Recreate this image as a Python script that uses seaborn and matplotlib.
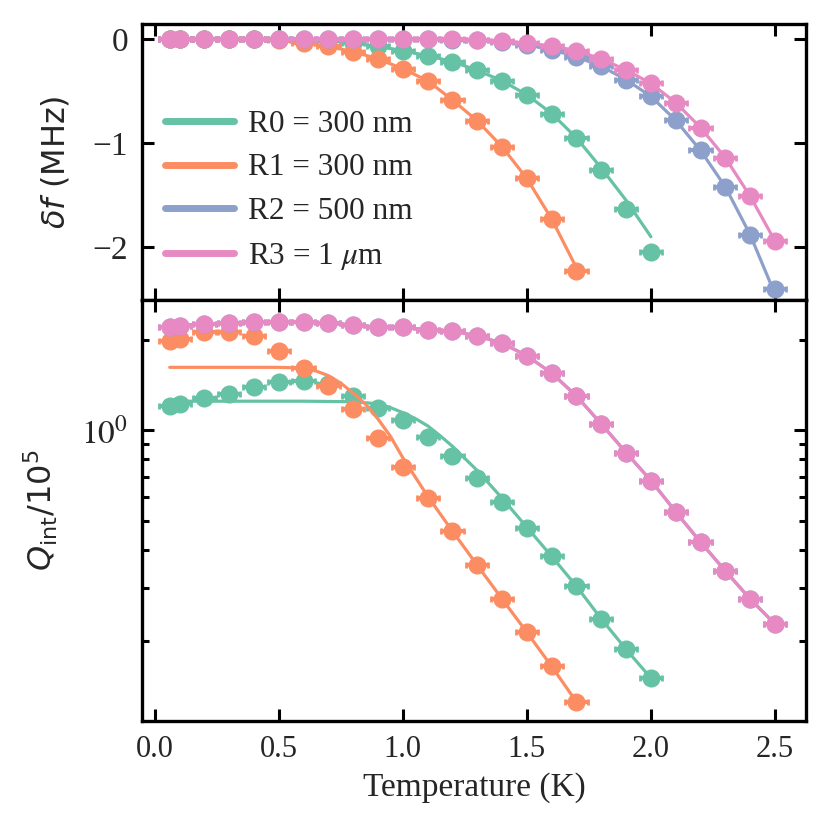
import numpy as np
import pandas as pd
import matplotlib
matplotlib.use("Agg")
import matplotlib.pyplot as plt
from matplotlib.lines import Line2D
import seaborn as sns

# ---------------- data ----------------
labels = ["R0 = 300 nm", "R1 = 300 nm", "R2 = 500 nm", r"R3 = 1 $\mu$m"]
colors = sns.color_palette("Set2", 4)

T_R0 = [0.06, 0.1, 0.2, 0.3, 0.4, 0.5, 0.6, 0.7, 0.8, 0.9, 1.0, 1.1, 1.2, 1.3, 1.4,
        1.5, 1.6, 1.7, 1.8, 1.9, 2.0]
T_R1 = [0.06, 0.1, 0.2, 0.3, 0.4, 0.5, 0.6, 0.7, 0.8, 0.9, 1.0, 1.1, 1.2, 1.3, 1.4,
        1.5, 1.6, 1.7]
T_R23 = [0.06, 0.1, 0.2, 0.3, 0.4, 0.5, 0.6, 0.7, 0.8, 0.9, 1.0, 1.1, 1.2, 1.3, 1.4,
         1.5, 1.6, 1.7, 1.8, 1.9, 2.0, 2.1, 2.2, 2.3, 2.4, 2.5]

# frequency shift (MHz)
df_R0 = [0.0, 0.0, 0.0, 0.0, 0.0, 0.0, -0.005, -0.015, -0.035, -0.07, -0.11, -0.16,
         -0.215, -0.30, -0.40, -0.535, -0.715, -0.95, -1.26, -1.63, -2.05]
df_R1 = [0.0, 0.0, 0.0, 0.0, 0.0, -0.01, -0.04, -0.07, -0.12, -0.19, -0.285, -0.40,
         -0.585, -0.785, -1.035, -1.34, -1.73, -2.23]
df_R2 = [0.0, 0.0, 0.0, 0.0, 0.0, 0.0, 0.0, 0.0, 0.0, 0.0, 0.0, 0.0, -0.005, -0.01,
         -0.025, -0.055, -0.10, -0.17, -0.26, -0.39, -0.55, -0.78, -1.07, -1.42,
         -1.88, -2.40]
df_R3 = [0.0, 0.0, 0.0, 0.0, 0.0, 0.0, 0.0, 0.0, 0.0, 0.0, 0.0, 0.0, 0.0, -0.005,
         -0.016, -0.04, -0.065, -0.11, -0.19, -0.296, -0.425, -0.61, -0.85, -1.14,
         -1.51, -1.94]

# fitted frequency shift (MHz)
df_fit_R0 = [0.0, 0.0, 0.0, 0.0, 0.0, 0.0, -0.005, -0.015, -0.035, -0.07, -0.11, -0.16,
             -0.215, -0.30, -0.40, -0.535, -0.715, -0.95, -1.24, -1.55, -1.90]
df_fit_R1 = [0.0, 0.0, 0.0, 0.0, 0.0, -0.01, -0.04, -0.07, -0.12, -0.19, -0.285, -0.40,
             -0.585, -0.785, -1.035, -1.34, -1.73, -2.20]
df_fit_R2 = [0.0, 0.0, 0.0, 0.0, 0.0, 0.0, 0.0, 0.0, 0.0, 0.0, 0.0, 0.0, -0.005, -0.01,
             -0.025, -0.055, -0.10, -0.17, -0.26, -0.39, -0.55, -0.78, -1.07, -1.42,
             -1.88, -2.45]
df_fit_R3 = df_R3

# internal quality factor (1e5)
Q_R0 = [1.205, 1.22, 1.285, 1.325, 1.39, 1.45, 1.46, 1.43, 1.30, 1.19, 1.08, 0.953,
        0.821, 0.693, 0.577, 0.474, 0.381, 0.303, 0.236, 0.187, 0.150]
Q_R1 = [1.98, 2.01, 2.12, 2.12, 2.06, 1.84, 1.61, 1.40, 1.175, 0.946, 0.758, 0.596,
        0.462, 0.356, 0.275, 0.213, 0.164, 0.125]
Q_R2 = [2.20, 2.23, 2.26, 2.27, 2.29, 2.30, 2.29, 2.27, 2.24, 2.20, 2.20, 2.16, 2.14,
        2.06, 1.95, 1.77, 1.55, 1.30, 1.05, 0.843, 0.681, 0.536, 0.425, 0.341, 0.275,
        0.227]
Q_R3 = Q_R2

T_fit_R0 = [0.06, 0.2, 0.4, 0.6, 0.8, 0.9, 0.95, 1.0, 1.05, 1.1, 1.15, 1.2, 1.3, 1.4,
            1.5, 1.6, 1.7, 1.8, 1.9, 2.0]
Q_fit_R0 = [1.25, 1.25, 1.25, 1.25, 1.245, 1.225, 1.19, 1.145, 1.095, 1.035, 0.96,
            0.885, 0.735, 0.595, 0.476, 0.381, 0.303, 0.236, 0.187, 0.150]
T_fit_R1 = [0.06, 0.2, 0.4, 0.5, 0.6, 0.65, 0.7, 0.75, 0.8, 0.85, 0.9, 0.95, 1.0,
            1.1, 1.2, 1.3, 1.4, 1.5, 1.6, 1.7]
Q_fit_R1 = [1.62, 1.62, 1.62, 1.62, 1.61, 1.575, 1.52, 1.435, 1.33, 1.22, 1.09, 0.955,
            0.81, 0.604, 0.462, 0.356, 0.275, 0.213, 0.164, 0.125]
Q_fit_R2 = Q_R2
Q_fit_R3 = Q_R3

T_err = 0.045

# ---------------- style ----------------
sns.set_theme(style="ticks")
plt.rcParams["font.family"] = ["Liberation Serif", "DejaVu Serif"]
plt.rcParams["mathtext.fontset"] = "stix"

fig = plt.figure(figsize=(8.3, 8.35), dpi=100)
gs = fig.add_gridspec(2, 1, height_ratios=[276, 421], hspace=0,
                      left=0.171, right=0.971, top=0.971, bottom=0.1365)
ax1 = fig.add_subplot(gs[0])
ax2 = fig.add_subplot(gs[1], sharex=ax1)

top_sets = [(T_R0, df_R0, T_R0, df_fit_R0), (T_R1, df_R1, T_R1, df_fit_R1),
            (T_R23, df_R2, T_R23, df_fit_R2), (T_R23, df_R3, T_R23, df_fit_R3)]
bot_sets = [(T_R0, Q_R0, T_fit_R0, Q_fit_R0), (T_R1, Q_R1, T_fit_R1, Q_fit_R1),
            (T_R23, Q_R2, T_R23, Q_fit_R2), (T_R23, Q_R3, T_R23, Q_fit_R3)]

for ax, sets in ((ax1, top_sets), (ax2, bot_sets)):
    for i, (tx, yv, tf, yf) in enumerate(sets):
        c = colors[i]
        fit = pd.DataFrame({"T": tf, "y": yf})
        sns.lineplot(data=fit, x="T", y="y", ax=ax, color=c, lw=2.3,
                     zorder=2 + 2 * i, legend=False, errorbar=None)
        ax.errorbar(tx, yv, xerr=T_err, fmt="o", ms=12, color=c, mec=c,
                    elinewidth=3, capsize=2.5, capthick=2, zorder=3 + 2 * i)

ax2.set_yscale("log")
ax1.set_xlim(-0.052, 2.625)
ax1.set_ylim(-2.51, 0.144)
ax2.set_ylim(0.108, 2.71)
ax1.set_yticks([0, -1, -2])
ax2.set_yticks([1.0])
ax2.set_yticklabels([r"$10^0$"])
ax2.yaxis.set_minor_formatter(matplotlib.ticker.NullFormatter())
ax1.set_xticks([0.0, 0.5, 1.0, 1.5, 2.0, 2.5])

for ax in (ax1, ax2):
    ax.tick_params(which="both", direction="in", top=True, right=True,
                   width=2.2, color="black")
    ax.tick_params(which="major", length=8.5, pad=10)
    ax.tick_params(which="minor", length=5)
    ax.tick_params(axis="y", labelsize=24)
    ax.tick_params(axis="x", labelsize=22)
    ax.set_xlabel("")
    ax.set_ylabel("")
    for s in ax.spines.values():
        s.set_linewidth(2.4)
        s.set_color("black")
ax1.tick_params(axis="x", labelbottom=False)

ax1.set_ylabel(r"$\delta f$ (MHz)", fontsize=23, family="DejaVu Sans",
               math_fontfamily="dejavusans", labelpad=15)
ax2.set_ylabel(r"$Q_{\rm int}/10^5$", fontsize=23, family="DejaVu Sans",
               math_fontfamily="dejavusans", labelpad=15)
ax2.set_xlabel("Temperature (K)", fontsize=24, labelpad=6)

handles = [Line2D([0], [0], color=colors[i], lw=5) for i in range(4)]
ax1.legend(handles, labels, loc="upper left", bbox_to_anchor=(0.035, 0.69),
           frameon=False, fontsize=22.5, handlelength=2.2, handletextpad=0.45,
           labelspacing=0.47, borderpad=0, borderaxespad=0)

fig.savefig("out.png", dpi=100)
